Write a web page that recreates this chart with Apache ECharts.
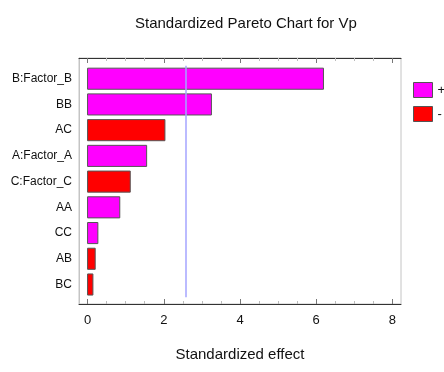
<!DOCTYPE html>
<html>
<head>
<meta charset="utf-8">
<script src="https://cdn.jsdelivr.net/npm/echarts@6/dist/echarts.min.js"></script>
<style>html,body{margin:0;padding:0;background:#fff}#c{width:444px;height:372px}</style>
</head>
<body>
<div id="c"></div>
<script>
const categories = ['B:Factor_B','BB','AC','A:Factor_A','C:Factor_C','AA','CC','AB','BC'];
const effects = [6.19, 3.25, 2.03, 1.55, 1.12, 0.845, 0.27, 0.2, 0.14];
const signs = ['+','+','-','+','-','+','+','-','-'];
const refValue = 2.57;
const majorTicks = [0, 2, 4, 6, 8];
const minorTicks = [0.5,1,1.5,2.5,3,3.5,4.5,5,5.5,6.5,7,7.5];

const FONT = '"Liberation Sans", Arial, sans-serif';
const posData = [], negData = [];
effects.forEach((v, i) => { (signs[i] === '+' ? posData : negData).push([v, i]); });

function renderItem(params, api) {
  const v = api.value(0), i = api.value(1);
  const p0 = api.coord([0, i]);
  const p1 = api.coord([v, i]);
  const h = api.size([0, 0.82])[1];
  return {
    type: 'rect',
    shape: { x: p0[0], y: p0[1] - h / 2, width: p1[0] - p0[0], height: h },
    style: api.style({ stroke: '#555', lineWidth: 1 })
  };
}

const xMin = -0.225, xMax = 8.225;
function xAx(pos, ticks, len, color, opts) {
  return Object.assign({
    type: 'value', position: pos, min: xMin, max: xMax,
    axisLine: { show: false, onZero: false },
    axisTick: { show: true, inside: true, length: len, customValues: ticks, lineStyle: { color: color } },
    axisLabel: { show: false },
    splitLine: { show: false }
  }, opts || {});
}

const chart = echarts.init(document.getElementById('c'), null, { renderer: 'canvas' });
chart.setOption({
  animation: false,
  backgroundColor: '#fff',
  title: {
    text: 'Standardized Pareto Chart for Vp',
    left: 130, top: 11,
    textStyle: { fontFamily: FONT, fontSize: 15, fontWeight: 'normal', color: '#111' }
  },
  legend: {
    orient: 'vertical', left: 413, top: 82, itemWidth: 19, itemHeight: 15, itemGap: 8,
    icon: 'rect', padding: 0,
    itemStyle: { borderColor: '#555', borderWidth: 1 },
    textStyle: { fontFamily: FONT, fontSize: 13, color: '#111' },
    data: ['+', '-']
  },
  grid: { left: 79, right: 43, top: 58, bottom: 68, show: true, borderColor: '#c4c4c4', borderWidth: 1, backgroundColor: 'transparent' },
  xAxis: [
    xAx('bottom', majorTicks, 5, '#777', {
      axisLine: { show: true, onZero: false, lineStyle: { color: '#333', width: 1 } },
      axisLabel: { show: true, customValues: majorTicks, margin: 10, fontFamily: FONT, fontSize: 13, color: '#111' },
      name: 'Standardized effect', nameLocation: 'middle', nameGap: 43,
      nameTextStyle: { fontFamily: FONT, fontSize: 15, color: '#111' }
    }),
    xAx('bottom', minorTicks, 3, '#bbb'),
    xAx('top', majorTicks, 5, '#777', { axisLine: { show: true, onZero: false, lineStyle: { color: '#333', width: 1 } } }),
    xAx('top', minorTicks, 3, '#bbb')
  ],
  yAxis: {
    type: 'value', inverse: true, min: -0.805, max: 8.758,
    axisLine: { show: true, onZero: false, lineStyle: { color: '#c4c4c4' } },
    axisTick: { show: false },
    splitLine: { show: false },
    axisLabel: {
      customValues: categories.map((c, i) => i),
      formatter: v => categories[Math.round(v)],
      margin: 7, fontFamily: FONT, fontSize: 12, color: '#111'
    }
  },
  series: [
    {
      name: '+', type: 'custom', xAxisIndex: 0, renderItem: renderItem,
      itemStyle: { color: '#ff00ff' }, encode: { x: 0, y: 1 }, data: posData,
      markLine: {
        silent: true, symbol: 'none', label: { show: false },
        lineStyle: { color: '#a4a4ff', width: 1.5, type: 'solid' },
        data: [[{ coord: [refValue, -0.5] }, { coord: [refValue, 8.5] }]]
      }
    },
    {
      name: '-', type: 'custom', xAxisIndex: 0, renderItem: renderItem,
      itemStyle: { color: '#ff0000' }, encode: { x: 0, y: 1 }, data: negData
    }
  ]
});
</script>
</body>
</html>
